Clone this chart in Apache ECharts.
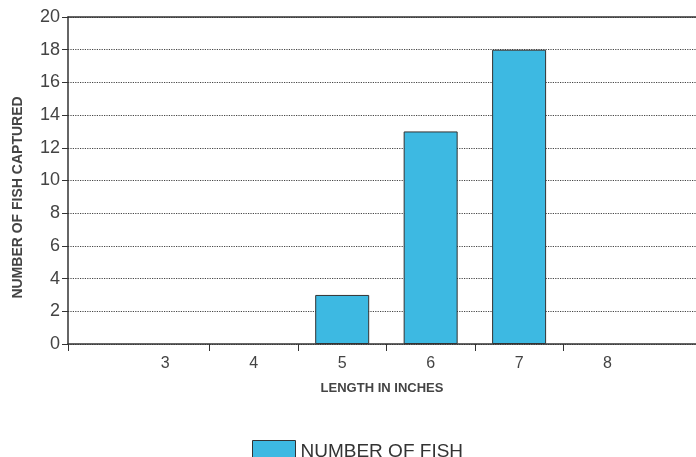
<!DOCTYPE html>
<html>
<head>
<meta charset="utf-8">
<script src="https://cdn.jsdelivr.net/npm/echarts@6/dist/echarts.min.js"></script>
<style>
  html, body { margin: 0; padding: 0; background: #fff; }
  #chart { width: 696px; height: 457px; }
</style>
</head>
<body>
<div id="chart"></div>
<script>
// fish length survey
var lengths = [3, 4, 5, 6, 7, 8];
var fishCounts = [0, 0, 3, 13, 18, 0];
var xTickMarks = [1.9, 3.5, 4.5, 5.5, 6.5, 7.5];

var barData = [];
for (var i = 0; i < lengths.length; i++) {
    if (fishCounts[i] > 0) barData.push([lengths[i], fishCounts[i]]);
}

var chartDom = document.getElementById('chart');
var myChart = echarts.init(chartDom);
var font = '"Liberation Sans", Arial, sans-serif';

var option = {
    animation: false,
    textStyle: { fontFamily: font },
    grid: {
        left: 68,
        right: 0,
        top: 17,
        bottom: 113,
        outerBoundsMode: 'none'
    },
    legend: {
        data: ['NUMBER OF FISH'],
        left: 247,
        top: 435,
        icon: 'rect',
        itemWidth: 43,
        itemHeight: 22,
        itemGap: 10,
        itemStyle: { borderColor: '#333', borderWidth: 1 },
        textStyle: { fontSize: 19, color: '#333', fontFamily: font }
    },
    xAxis: [{
        type: 'value',
        min: 1.9,
        max: 9,
        name: 'LENGTH IN INCHES',
        nameLocation: 'middle',
        nameGap: 38,
        nameTextStyle: { fontSize: 13, fontWeight: 'bold', color: '#444', fontFamily: font },
        axisLine: { show: true, lineStyle: { color: '#333', width: 1.5 } },
        axisTick: { show: true, length: 7, customValues: xTickMarks, lineStyle: { color: '#333' } },
        axisLabel: { customValues: lengths, fontSize: 16, color: '#444', margin: 12, fontFamily: font },
        splitLine: { show: false }
    }, {
        type: 'value',
        position: 'top',
        min: 1.9,
        max: 9,
        axisLine: { show: true, lineStyle: { color: '#333', width: 1.5 } },
        axisTick: { show: false },
        axisLabel: { show: false },
        splitLine: { show: false }
    }],
    yAxis: {
        type: 'value',
        min: 0,
        max: 20,
        interval: 2,
        name: 'NUMBER OF FISH CAPTURED',
        nameLocation: 'middle',
        nameGap: 43,
        nameTextStyle: { fontSize: 14, fontWeight: 'bold', color: '#444', fontFamily: font, padding: [0, 34, 0, 0] },
        axisLine: { show: true, lineStyle: { color: '#333', width: 1.5 } },
        axisTick: { show: true, length: 6, lineStyle: { color: '#333' } },
        axisLabel: { fontSize: 18, color: '#444', margin: 8, fontFamily: font },
        splitLine: { show: true, lineStyle: { color: '#444', type: 'dotted', width: 1.2 } }
    },
    series: [{
        name: 'NUMBER OF FISH',
        type: 'bar',
        data: barData,
        barWidth: 54,
        itemStyle: {
            color: '#3db9e2',
            borderColor: '#333',
            borderWidth: 1
        }
    }]
};

option && myChart.setOption(option);
</script>
</body>
</html>
